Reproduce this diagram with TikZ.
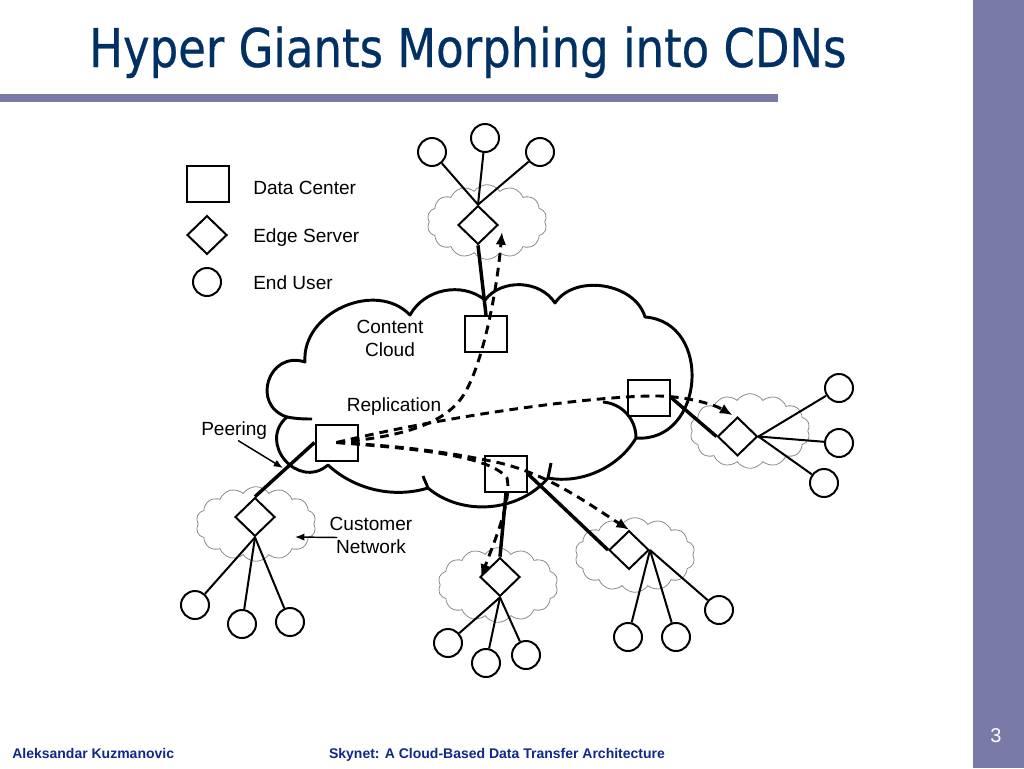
\documentclass[tikz,border=0pt]{standalone}
\usepackage{graphicx}
\usepackage{fontspec}
\setmainfont{Liberation Sans}
\newfontfamily\titlefont[FakeBold=0.5]{DejaVu Sans}
\usetikzlibrary{shapes.geometric,shapes.symbols,arrows.meta}
\definecolor{barc}{RGB}{122,122,168}
\definecolor{titlec}{RGB}{0,48,100}
\definecolor{footc}{RGB}{16,40,140}
\begin{document}
\begin{tikzpicture}[x=0.75pt,y=0.75pt,
  dcbox/.style={draw,line width=1.5pt,minimum width=31.5pt,minimum height=27pt,inner sep=0},
  esbox/.style={diamond,draw,line width=1.5pt,minimum width=30pt,minimum height=29pt,inner sep=0},
  eubox/.style={circle,draw,line width=1.5pt,minimum size=21pt,inner sep=0},
  smallcloud/.style={cloud,draw=black!45,line width=0.6pt,cloud puffs=14,cloud puff arc=110,aspect=1.6,minimum width=90pt,minimum height=56pt,inner sep=0},
  userline/.style={line width=1.5pt},
  trunk/.style={line width=2.6pt},
  repl/.style={line width=2.2pt,dash pattern=on 6.5pt off 4.5pt,-{Latex[length=9.5pt,width=8pt]}},
  lbl/.style={font=\fontsize{14.3pt}{17pt}\selectfont,inner sep=0},
  pointer/.style={line width=1.1pt,-{Latex[length=7pt,width=5.5pt]}}
]
\useasboundingbox (0,0) rectangle (1024,-768);
\fill[white] (0,0) rectangle (1024,-768);
% slide decoration
\fill[barc] (973,0) rectangle (1024,-768);
\fill[barc] (0,-94) rectangle (778,-102);
\node[anchor=base west,inner sep=0,text=titlec,font=\titlefont\fontsize{40pt}{48pt}\selectfont] (title) at (89,-67) {\scalebox{0.843}[1]{Hyper Giants Morphing into CDNs}};
\node[anchor=base west,inner sep=0,text=footc,font=\bfseries\fontsize{10.5pt}{12pt}\selectfont] (fauthor) at (12,-758) {Aleksandar Kuzmanovic};
\node[anchor=base,inner sep=0,text=footc,font=\bfseries\fontsize{10.5pt}{12pt}\selectfont] (ftalk) at (497,-758) {Skynet: A Cloud-Based Data Transfer Architecture};
\node[anchor=base,inner sep=0,text=white,font=\fontsize{15pt}{17pt}\selectfont] (pgno) at (996,-742) {3};

% small clouds
\node[smallcloud] (cT) at (487,-222) {};
\node[smallcloud] (cR) at (750,-431) {};
\node[smallcloud] (cL) at (256,-524) {};
\node[smallcloud] (cB) at (498,-585) {};
\node[smallcloud] (cBR) at (635,-555) {};

% big content cloud
\draw[line width=2.2pt,line join=round]
  (287,-417) to[bend left=90,looseness=1.7] (305,-362)
  to[bend left=70,looseness=1.1] (410,-315)
  to[bend left=50] (485,-300)
  to[bend left=55] (555,-303)
  to[bend left=65] (645,-317)
  to[bend left=90,looseness=1.45] (636,-438)
  to[bend left=35,looseness=0.9] (548,-478)
  to[bend left=45,looseness=0.95] (428,-488)
  to[bend left=30,looseness=0.9] (328,-465)
  to[bend left=90,looseness=1.6] (287,-417) -- cycle;
\draw[line width=2.2pt] (603,-402) to[out=-5,in=90] (636,-438);
\draw[line width=2.2pt] (287,-417) to[out=-10,in=180] (312,-419);
\draw[line width=2.2pt] (548,-478) to[out=80,in=-100] (551,-463);
\draw[line width=2.2pt] (428,-488) to[out=110,in=-70] (423,-476);

% legend
\node[dcbox] (lgDC) at (207.5,-183.5) {};
\node[esbox] (lgES) at (207,-235) {};
\node[eubox] (lgEU) at (207,-282) {};
\node[lbl,anchor=base west] (tDC) at (253,-194) {Data Center};
\node[lbl,anchor=base west] (tES) at (253,-242) {Edge Server};
\node[lbl,anchor=base west] (tEU) at (253,-289) {End User};

% data centers
\node[dcbox] (dcT) at (486,-334) {};
\node[dcbox] (dcP) at (336.5,-442.5) {};
\node[dcbox] (dcR) at (649,-397.5) {};
\node[dcbox] (dcB) at (506,-474) {};

% edge servers
\node[esbox] (esT) at (478,-225) {};
\node[esbox] (esR) at (737.5,-436.5) {};
\node[esbox] (esL) at (255,-517) {};
\node[esbox] (esB) at (500,-577) {};
\node[esbox] (esBR) at (629,-550) {};

% end users
\node[eubox] (u1) at (432,-152) {};
\node[eubox] (u2) at (485,-138) {};
\node[eubox] (u3) at (540,-152) {};
\node[eubox] (u4) at (839,-388) {};
\node[eubox] (u5) at (839,-443) {};
\node[eubox] (u6) at (824,-483) {};
\node[eubox] (u7) at (195,-605) {};
\node[eubox] (u8) at (242,-624) {};
\node[eubox] (u9) at (290,-622) {};
\node[eubox] (u10) at (448,-643) {};
\node[eubox] (u11) at (486,-663) {};
\node[eubox] (u12) at (526,-655) {};
\node[eubox] (u13) at (628,-637) {};
\node[eubox] (u14) at (676,-637) {};
\node[eubox] (u15) at (719,-610) {};

% user links
\draw[userline] (esT.north) -- (u1);
\draw[userline] (esT.north) -- (u2);
\draw[userline] (esT.north) -- (u3);
\draw[userline] (esR.east) -- (u4);
\draw[userline] (esR.east) -- (u5);
\draw[userline] (esR.east) -- (u6);
\draw[userline] (esL.south) -- (u7);
\draw[userline] (esL.south) -- (u8);
\draw[userline] (esL.south) -- (u9);
\draw[userline] (esB.south) -- (u10);
\draw[userline] (esB.south) -- (u11);
\draw[userline] (esB.south) -- (u12);
\draw[userline] (esBR.east) -- (u13);
\draw[userline] (esBR.east) -- (u14);
\draw[userline] (esBR.east) -- (u15);

% trunk links
\draw[trunk] (dcT.north) -- (esT.south);
\draw[trunk] (dcP.west) -- (esL.north);
\draw[trunk] (dcR.east) -- (esR.west);
\draw[trunk] (dcB.south) -- (esB.north);
\draw[trunk] (dcB.east) -- (esBR.west);

% replication paths
\draw[repl] (dcP.center) .. controls (400,-437) and (440,-425) .. (460,-400)
  .. controls (480,-375) and (496,-300) .. ([shift={(3,-7)}]esT.east);
\draw[repl] (dcP.center) .. controls (450,-415) and (600,-395) .. (660,-396)
  .. controls (690,-397) and (715,-405) .. ([shift={(-5,1)}]esR.north);
\draw[repl] (dcP.center) .. controls (400,-446) and (450,-452) .. (500,-463)
  .. controls (550,-475) and (590,-505) .. (esBR.north);
\draw[repl] (dcP.center) .. controls (420,-449) and (490,-456) .. (507,-478)
  .. controls (512,-500) and (495,-540) .. ([shift={(2,0)}]esB.west);

% labels
\node[lbl,align=center] (tCC) at (390,-338.5) {Content\\Cloud};
\node[lbl,anchor=base] (tRep) at (394,-411) {Replication};
\node[lbl,anchor=base west] (tPeer) at (201,-435) {Peering};
\coordinate (peerTip) at (283,-468);
\draw[pointer] ([xshift=3,yshift=-1]tPeer.south) -- (peerTip);
\node[lbl,align=center] (tCN) at (371,-535.5) {Customer\\Network};
\coordinate (cnTip) at (295,-537);
\draw[pointer] ([xshift=6,yshift=-1.5]tCN.west) -- (cnTip);
\end{tikzpicture}
\end{document}
